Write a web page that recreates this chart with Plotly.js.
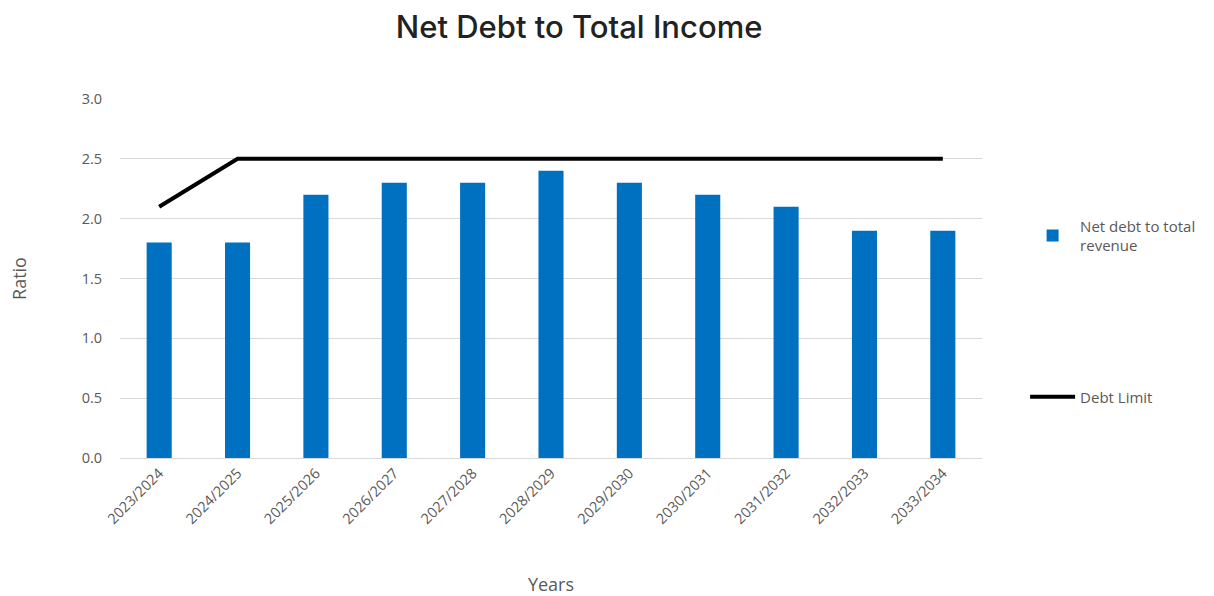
<!DOCTYPE html>
<html><head><meta charset="utf-8">
<script src="https://cdn.plot.ly/plotly-3.0.1.min.js"></script>
<style>body{margin:0;background:#fff}#c{width:1214px;height:596px}</style>
</head><body><div id="c"></div>
<script>
const categories = ["2023/2024","2024/2025","2025/2026","2026/2027","2027/2028","2028/2029","2029/2030","2030/2031","2031/2032","2032/2033","2033/2034"];
const netDebtRatio = [1.8,1.8,2.2,2.3,2.3,2.4,2.3,2.2,2.1,1.9,1.9];
const debtLimit = [2.1,2.5,2.5,2.5,2.5,2.5,2.5,2.5,2.5,2.5,2.5];

const traces = [
  {type:'bar', x:categories, y:netDebtRatio, name:'Net debt to total<br>revenue',
   marker:{color:'#0070C0'}, legend:'legend'},
  {type:'scatter', mode:'lines', x:categories, y:debtLimit, name:'Debt Limit',
   line:{color:'#000000', width:4}, legend:'legend2'}
];
const tickFont = {family:'Open Sans, sans-serif', size:14.5, color:'#595959'};
const layout = {
  width:1214, height:596,
  margin:{l:120, r:232, t:99, b:138, autoexpand:false},
  paper_bgcolor:'#fff', plot_bgcolor:'#fff',
  title:{text:'Net Debt to Total Income', font:{family:'Inter, sans-serif', size:31, color:'#222', weight:500}, x:0.477, xanchor:'center', y:0.955, yanchor:'middle'},
  bargap:0.68,
  xaxis:{type:'category', tickangle:-45, tickfont:tickFont, showgrid:false, showline:true, linecolor:'#d9d9d9', linewidth:1, ticks:'',
    title:{text:'Years', font:{family:'Open Sans, sans-serif', size:18, color:'#595959'}, standoff:55}},
  yaxis:{range:[0,3], dtick:0.5, tickformat:'.1f', tickfont:tickFont, gridcolor:'#d9d9d9', gridwidth:1, zeroline:false, ticks:'outside', tickcolor:'rgba(0,0,0,0)', ticklen:14,
    title:{text:'Ratio', font:{family:'Open Sans, sans-serif', size:18, color:'#595959'}, standoff:50}},
  legend:{x:1.05, xanchor:'left', y:0.62, yanchor:'middle', font:{family:'Open Sans, sans-serif', size:15, color:'#595959'}, bgcolor:'rgba(0,0,0,0)', itemwidth:45},
  legend2:{x:1.05, xanchor:'left', y:0.17, yanchor:'middle', font:{family:'Open Sans, sans-serif', size:15, color:'#595959'}, bgcolor:'rgba(0,0,0,0)', itemwidth:45},
  showlegend:true
};
Plotly.newPlot('c', traces, layout, {displayModeBar:false, staticPlot:true});
</script></body></html>
